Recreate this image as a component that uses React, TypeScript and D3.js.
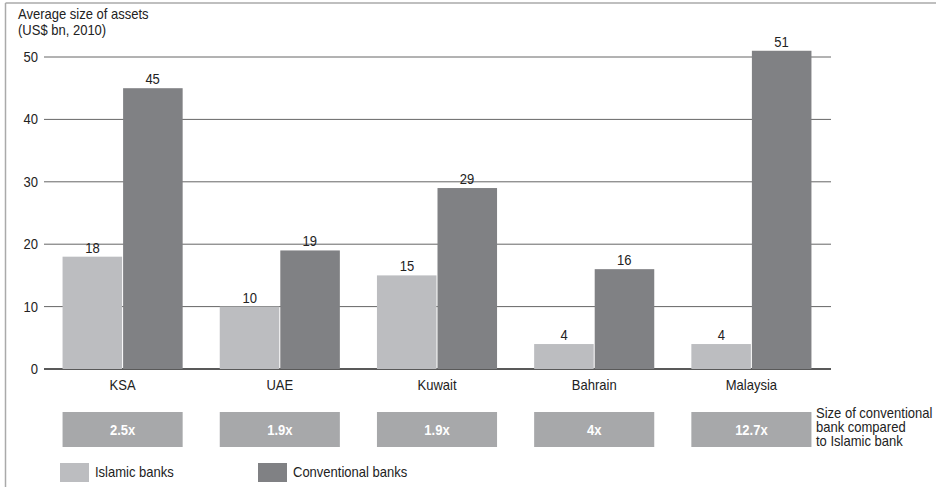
import React from "react";
import * as d3 from "d3";

const countries = ["KSA", "UAE", "Kuwait", "Bahrain", "Malaysia"];
const seriesNames = ["Islamic banks", "Conventional banks"];
const islamicValues = [18, 10, 15, 4, 4];
const conventionalValues = [45, 19, 29, 16, 51];
const multiples = ["2.5x", "1.9x", "1.9x", "4x", "12.7x"];
const yTicks = [0, 10, 20, 30, 40, 50];
const noteLines = ["Size of conventional", "bank compared", "to Islamic bank"];

const W = 936;
const H = 487;
const FONT = "'Liberation Sans', Arial, sans-serif";
const FS = 14;
const SQUEEZE = 0.93;
const COLORS = ["#bcbdc0", "#808184"];
const BOX_COLOR = "#a7a8aa";
const INK = "#222";

type TProps = {
  x: number;
  y: number;
  anchor?: "start" | "middle" | "end";
  bold?: boolean;
  fill?: string;
  dy?: string;
  children: React.ReactNode;
};

// Slightly condensed label text
function T({ x, y, anchor = "start", bold, fill = INK, dy, children }: TProps) {
  return (
    <text
      transform={`translate(${x},${y}) scale(${SQUEEZE},1)`}
      textAnchor={anchor}
      fontSize={FS}
      fontWeight={bold ? "bold" : "normal"}
      fill={fill}
      dy={dy}
    >
      {children}
    </text>
  );
}

export default function App() {
  const x0 = d3
    .scaleBand<string>()
    .domain(countries)
    .range([44, 830])
    .paddingInner(0.236)
    .paddingOuter(0.118);
  const x1 = d3
    .scaleBand<string>()
    .domain(seriesNames)
    .range([0, x0.bandwidth()]);
  const y = d3.scaleLinear().domain([0, 50]).range([369, 57]);
  const series = [islamicValues, conventionalValues];

  return (
    <svg
      width={W}
      height={H}
      style={{ position: "absolute", left: 0, top: 0, background: "#fff" }}
      fontFamily={FONT}
    >
      <rect x={0} y={0} width={W} height={H} fill="#fff" />
      {/* frame */}
      <line x1={5.5} y1={3} x2={W} y2={3} stroke="#aaa" strokeWidth={1.5} />
      <line x1={5.5} y1={3} x2={5.5} y2={H} stroke="#aaa" strokeWidth={1.5} />

      {/* axis title */}
      <T x={18} y={19}>Average size of assets</T>
      <T x={18} y={35}>(US$ bn, 2010)</T>

      {/* gridlines and tick labels */}
      {yTicks.map((t) => (
        <g key={t}>
          <line
            x1={44}
            x2={831}
            y1={y(t)}
            y2={y(t)}
            stroke={t === 0 ? INK : "#666"}
            strokeWidth={t === 0 ? 1.5 : 1}
          />
          <T x={38} y={y(t)} dy="0.35em" anchor="end">
            {t}
          </T>
        </g>
      ))}

      {/* bars */}
      {countries.map((c, i) => (
        <g key={c} transform={`translate(${x0(c)},0)`}>
          {seriesNames.map((s, j) => {
            const v = series[j][i];
            const bx = x1(s)!;
            return (
              <g key={s}>
                <rect
                  x={bx + (j === 1 ? 0.5 : 0)}
                  y={y(v)}
                  width={x1.bandwidth() - 0.5}
                  height={y(0) - y(v)}
                  fill={COLORS[j]}
                />
                <T x={bx + x1.bandwidth() / 2} y={y(v) - 4} anchor="middle">
                  {v}
                </T>
              </g>
            );
          })}
          <T x={x0.bandwidth() / 2} y={390} anchor="middle">
            {c}
          </T>
          <rect x={0} y={412} width={x0.bandwidth()} height={35} fill={BOX_COLOR} />
          <T x={x0.bandwidth() / 2} y={430} dy="0.35em" anchor="middle" bold fill="#fff">
            {multiples[i]}
          </T>
        </g>
      ))}

      {/* note beside the ratio boxes */}
      {noteLines.map((line, k) => (
        <T key={line} x={816} y={418 + k * 14}>
          {line}
        </T>
      ))}

      {/* legend */}
      {seriesNames.map((s, j) => {
        const lx = j === 0 ? 60 : 258;
        return (
          <g key={s}>
            <rect x={lx} y={463} width={29} height={19} fill={COLORS[j]} />
            <T x={lx + 35} y={477}>
              {s}
            </T>
          </g>
        );
      })}
    </svg>
  );
}
